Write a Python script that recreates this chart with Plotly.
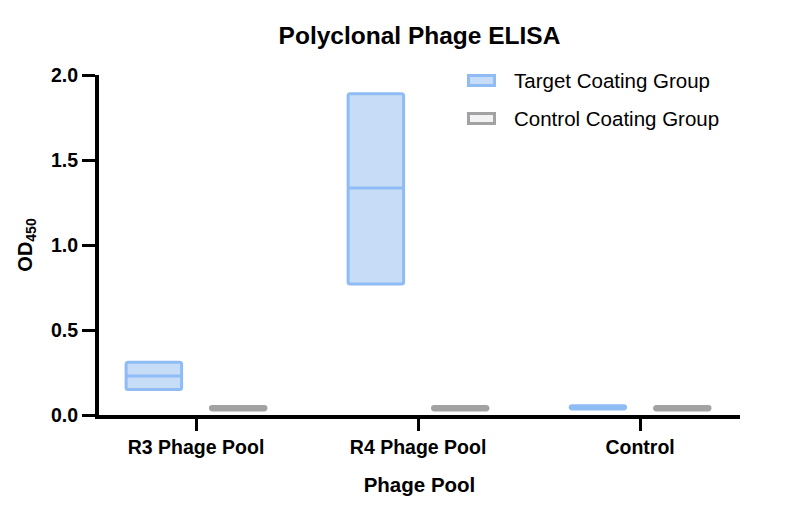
import plotly.graph_objects as go

# Dados (OD450: mínimo, média, máximo)
categorias = ["R3 Phage Pool", "R4 Phage Pool", "Control"]

alvo_min = [0.15, 0.77, 0.035]
alvo_media = [0.23, 1.335, 0.045]
alvo_max = [0.31, 1.89, 0.055]

controle_min = [0.03, 0.03, 0.03]
controle_media = [0.04, 0.04, 0.04]
controle_max = [0.05, 0.05, 0.05]

y_ticks = [0.0, 0.5, 1.0, 1.5, 2.0]

fonte = "Liberation Sans, Arial, sans-serif"
largura = 0.25
deslocamento = 0.19

series = [
    ("Target Coating Group", alvo_min, alvo_media, alvo_max, -deslocamento, "#c7dcf6", "#8fbcf4"),
    ("Control Coating Group", controle_min, controle_media, controle_max, deslocamento, "#f2f2f2", "#a2a2a4"),
]

fig = go.Figure()

for nome, mins, medias, maxs, off, cor_fundo, cor_borda in series:
    xs = [i + off for i in range(len(categorias))]
    fig.add_trace(go.Bar(
        x=xs,
        y=[b - a for a, b in zip(mins, maxs)],
        base=mins,
        width=largura,
        name=nome,
        showlegend=False,
        marker=dict(color=cor_fundo, line=dict(color=cor_borda, width=3), cornerradius=2),
    ))
    # linha da média dentro de cada barra
    lx, ly = [], []
    for x, m in zip(xs, medias):
        lx += [x - largura / 2, x + largura / 2, None]
        ly += [m, m, None]
    fig.add_trace(go.Scatter(x=lx, y=ly, mode="lines", showlegend=False,
                             line=dict(color=cor_borda, width=3), hoverinfo="skip"))

# Legenda desenhada à mão (retângulos largos como no original)
legenda_y = [(0.9985, 0.969, 0.985), (0.8868, 0.8574, 0.8706)]
for (nome, _, _, _, _, cor_fundo, cor_borda), (y0, y1, yt) in zip(series, legenda_y):
    fig.add_shape(type="rect", xref="paper", yref="paper",
                  x0=0.5764, x1=0.617, y0=y0, y1=y1,
                  fillcolor=cor_fundo, line=dict(color=cor_borda, width=3))
    fig.add_annotation(text=nome, xref="paper", yref="paper", x=0.644, y=yt,
                       xanchor="left", yanchor="middle", showarrow=False,
                       font=dict(size=20.5, color="black"))

fig.update_layout(
    width=792,
    height=509,
    barmode="overlay",
    plot_bgcolor="white",
    paper_bgcolor="white",
    font=dict(family=fonte, color="black"),
    margin=dict(l=91, r=60, t=67, b=102),
    title=dict(text="<b>Polyclonal Phage ELISA</b>", x=0.5, xref="paper", xanchor="center",
               y=0.947, yanchor="middle", yref="container", font=dict(size=24.5)),
    showlegend=False,
)

fig.update_xaxes(
    range=[-0.437, 2.45],
    tickvals=list(range(len(categorias))),
    ticktext=[f"<b>{c}</b>" for c in categorias],
    tickfont=dict(size=19.5),
    ticks="outside", ticklen=12, tickwidth=3, tickcolor="black",
    showline=True, linecolor="black", linewidth=4,
    showgrid=False, zeroline=False,
    title=dict(text="<b>Phage Pool</b>", font=dict(size=20.5), standoff=21),
)

fig.update_yaxes(
    range=[0, 2.0],
    tickvals=y_ticks,
    ticktext=[f"<b>{v:.1f}</b>" for v in y_ticks],
    tickfont=dict(size=19.5),
    ticks="outside", ticklen=13, tickwidth=3, tickcolor="black",
    showline=True, linecolor="black", linewidth=4,
    showgrid=False, zeroline=False,
    title=dict(text="<b>OD<sub>450</sub></b>", font=dict(size=20), standoff=14),
)

fig.write_html("out.html")
